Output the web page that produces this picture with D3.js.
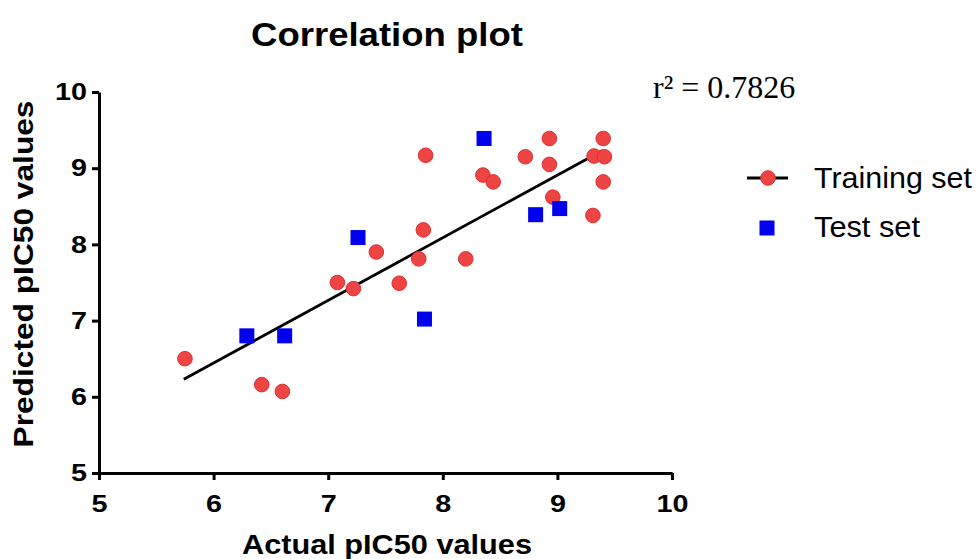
<!DOCTYPE html>
<html>
<head>
<meta charset="utf-8">
<script src="https://cdn.jsdelivr.net/npm/d3@7"></script>
<style>
  body { margin: 0; background: #fff; }
  text { font-family: Arial, "Liberation Sans", sans-serif; }
</style>
</head>
<body>
<div class="chart"></div>
<script>
// training set: actual / predicted pIC50
const trainActual = [5.75, 6.42, 6.60, 7.08, 7.22, 7.42, 7.62, 7.79, 7.83, 7.85, 8.20,
  8.35, 8.44, 8.72, 8.93, 8.93, 8.96, 9.31, 9.32, 9.40, 9.41, 9.40];
const trainPredicted = [6.50, 6.16, 6.07, 7.50, 7.42, 7.90, 7.49, 7.81, 8.19, 9.17, 7.81,
  8.91, 8.82, 9.15, 9.39, 9.05, 8.62, 8.38, 9.16, 9.39, 9.15, 8.82];
// test set
const testActual = [6.29, 6.62, 7.26, 7.84, 8.36, 8.81, 9.02];
const testPredicted = [6.80, 6.80, 8.09, 7.02, 9.39, 8.39, 8.47];
// regression line endpoints
const fitX = [5.74, 9.39];
const fitY = [6.23, 9.23];
const xTicks = [5, 6, 7, 8, 9, 10];
const yTicks = [5, 6, 7, 8, 9, 10];
const legendLabels = ['Training set', 'Test set'];
const r2Label = 'r\u00B2 = 0.7826';

const width = 979, height = 559;
const margin = { top: 92, right: 307, bottom: 86, left: 99 };
const innerW = width - margin.left - margin.right;
const innerH = height - margin.top - margin.bottom;

const red = '#ee4444';
const blue = '#0000ee';

const svg = d3.select('.chart')
  .append('svg')
    .attr('width', width)
    .attr('height', height);

const g = svg.append('g')
  .attr('transform', `translate(${margin.left}, ${margin.top})`);

const xScale = d3.scaleLinear().domain([5, 10]).range([0, innerW]);
const yScale = d3.scaleLinear().domain([5, 10]).range([innerH, 0]);

const xAxis = d3.axisBottom(xScale).tickValues(xTicks).tickSize(7).tickPadding(15)
  .tickSizeOuter(0).tickFormat(d3.format('d'));
const yAxis = d3.axisLeft(yScale).tickValues(yTicks).tickSize(7).tickPadding(5)
  .tickSizeOuter(0).tickFormat(d3.format('d'));

// the figure's lettering is a bit wider than Arial, so stretch it a little
function styleAxis(sel) {
  sel.select('.domain').attr('stroke', '#000').attr('stroke-width', 3);
  sel.selectAll('.tick line').attr('stroke', '#000').attr('stroke-width', 3);
  sel.selectAll('.tick text')
    .attr('fill', '#000')
    .attr('textLength', d => String(d).length * 16)
    .attr('lengthAdjust', 'spacingAndGlyphs')
    .style('font-size', '24px')
    .style('font-weight', 'bold')
    .style('font-family', 'Arial, "Liberation Sans", sans-serif');
}

g.append('g')
  .attr('transform', `translate(0, ${innerH})`)
  .call(xAxis)
  .call(styleAxis);

g.append('g')
  .call(yAxis)
  .call(styleAxis);

// regression line
g.append('line')
  .attr('x1', xScale(fitX[0])).attr('y1', yScale(fitY[0]))
  .attr('x2', xScale(fitX[1])).attr('y2', yScale(fitY[1]))
  .attr('stroke', '#000')
  .attr('stroke-width', 2.8);

// training points
const train = trainActual.map((a, i) => ({ a: a, p: trainPredicted[i] }));
g.selectAll('circle.train')
  .data(train)
  .enter()
  .append('circle')
    .attr('class', 'train')
    .attr('cx', d => xScale(d.a))
    .attr('cy', d => yScale(d.p))
    .attr('r', 7.3)
    .attr('fill', red)
    .attr('stroke', '#dd3030')
    .attr('stroke-width', 1);

// test points
const sq = 15;
const test = testActual.map((a, i) => ({ a: a, p: testPredicted[i] }));
g.selectAll('rect.test')
  .data(test)
  .enter()
  .append('rect')
    .attr('class', 'test')
    .attr('x', d => xScale(d.a) - sq / 2)
    .attr('y', d => yScale(d.p) - sq / 2)
    .attr('width', sq)
    .attr('height', sq)
    .attr('fill', blue);

// title
svg.append('text')
  .attr('x', 387).attr('y', 46)
  .attr('text-anchor', 'middle')
  .attr('textLength', 272)
  .attr('lengthAdjust', 'spacingAndGlyphs')
  .style('font-size', '34px')
  .style('font-weight', 'bold')
  .text('Correlation plot');

// axis titles
svg.append('text')
  .attr('x', 387).attr('y', 554)
  .attr('text-anchor', 'middle')
  .attr('textLength', 290)
  .attr('lengthAdjust', 'spacingAndGlyphs')
  .style('font-size', '28px')
  .style('font-weight', 'bold')
  .text('Actual pIC50 values');

svg.append('text')
  .attr('transform', 'translate(33, 274) rotate(-90)')
  .attr('text-anchor', 'middle')
  .attr('textLength', 347)
  .attr('lengthAdjust', 'spacingAndGlyphs')
  .style('font-size', '28px')
  .style('font-weight', 'bold')
  .text('Predicted pIC50 values');

// r squared
svg.append('text')
  .attr('x', 653).attr('y', 98)
  .style('font-family', '"Liberation Serif", "Times New Roman", serif')
  .style('font-size', '32px')
  .text(r2Label);

// legend
const legend = svg.append('g').attr('transform', 'translate(747, 178)');
legend.append('line')
  .attr('x1', 0).attr('x2', 41).attr('y1', 0).attr('y2', 0)
  .attr('stroke', '#000').attr('stroke-width', 2.8);
legend.append('circle')
  .attr('cx', 21).attr('cy', 0).attr('r', 7.3)
  .attr('fill', red).attr('stroke', '#dd3030');
legend.append('rect')
  .attr('x', 20 - sq / 2).attr('y', 50 - sq / 2).attr('width', sq).attr('height', sq)
  .attr('fill', blue);
legend.selectAll('text.lab')
  .data(legendLabels)
  .enter()
  .append('text')
    .attr('class', 'lab')
    .attr('x', 67)
    .attr('y', (d, i) => i * 49 + 10)
    .attr('textLength', (d, i) => i === 0 ? 158 : 106)
    .attr('lengthAdjust', 'spacingAndGlyphs')
    .style('font-size', '29px')
    .text(d => d);
</script>
</body>
</html>
